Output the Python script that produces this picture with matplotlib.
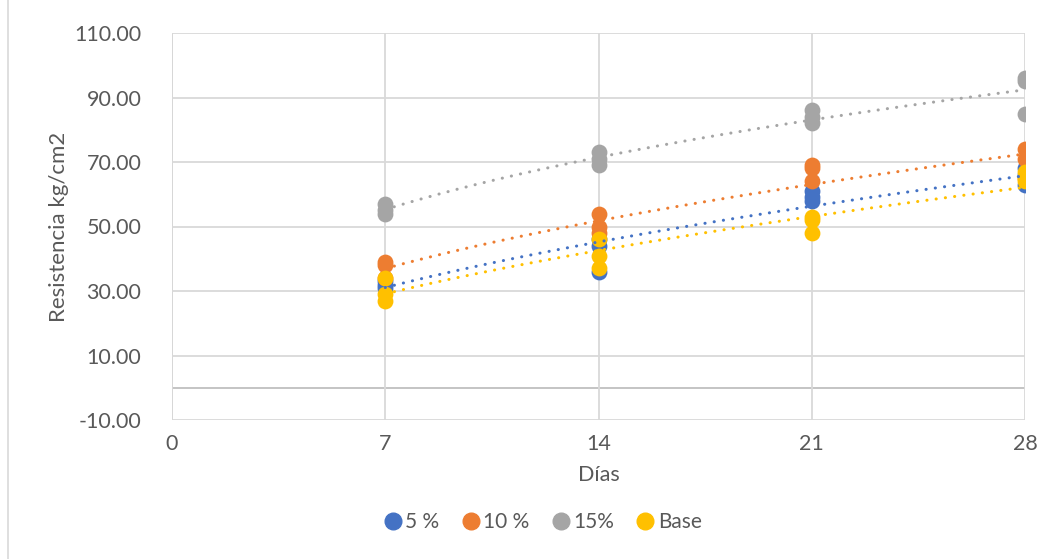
import numpy as np
import matplotlib.pyplot as plt
from matplotlib.lines import Line2D

# datos de resistencia por edad de ensayo
dias = [7, 7, 7, 14, 14, 14, 21, 21, 21, 28, 28, 28]
r5 = [33, 32, 31, 46, 44, 36, 61, 59, 58, 68, 66, 63]
r10 = [39, 38, 34, 54, 50, 48, 69, 68, 64, 74, 71, 65]
r15 = [57, 55, 54, 73, 71, 69, 86, 84, 82, 96, 95, 85]
base = [34, 29, 27, 46, 41, 37, 53, 52, 48, 67, 65, 64]

series = [("5 %", r5, "#4472C4"), ("10 %", r10, "#ED7D31"),
          ("15%", r15, "#A5A5A5"), ("Base", base, "#FFC000")]

plt.rcParams['font.family'] = ['Lato', 'DejaVu Sans']
txt = "#595959"
grid = "#D9D9D9"

fig = plt.figure(figsize=(10.52, 5.59), dpi=100)
ax = fig.add_axes([172/1052, 1-420/559, (1025-172)/1052, (420-33)/559])

x = np.array(dias, dtype=float)
xs = np.linspace(7, 28, 200)
for name, vals, col in series:
    y = np.array(vals, dtype=float)
    ax.scatter(x, y, s=130, color=col, zorder=3, linewidths=0)
    # linea de tendencia potencial
    b, lna = np.polyfit(np.log(x), np.log(y), 1)
    ax.plot(xs, np.exp(lna)*xs**b, color=col, lw=2.2, zorder=4,
            linestyle=(0, (0.05, 3.0)), dash_capstyle='round')

ax.set_xlim(0, 28)
ax.set_ylim(-10, 110)
ax.set_xticks([0, 7, 14, 21, 28])
ax.set_yticks(np.arange(-10, 111, 20))
ax.yaxis.set_major_formatter(plt.FormatStrFormatter('%.2f'))
ax.grid(True, color=grid, lw=1.3, zorder=0)
ax.axhline(0, color="#BFBFBF", lw=1.3, zorder=1)
ax.axvline(0, color="#BFBFBF", lw=1.3, zorder=1)
for s in ax.spines.values():
    s.set_visible(False)
ax.tick_params(length=0, labelsize=15.5, labelcolor=txt, pad=10)
ax.tick_params(axis='y', pad=22)
ax.set_xlabel("Días", fontsize=15.5, color=txt, labelpad=8)
ax.set_ylabel("Resistencia kg/cm2", fontsize=16, color=txt, labelpad=4)

handles = [Line2D([], [], marker='o', ls='none', color=c, markersize=12, label=n)
           for n, _, c in series]
fig.legend(handles=handles, loc='center', bbox_to_anchor=(541/1052, 1-522/559),
           ncol=4, frameon=False, fontsize=15, labelcolor=txt,
           handletextpad=0.0, columnspacing=0.9, handlelength=1.2)

fig.add_artist(Line2D([8/1052, 8/1052], [0, 1], color=grid, lw=1.2))

fig.savefig("out.png", dpi=100)
